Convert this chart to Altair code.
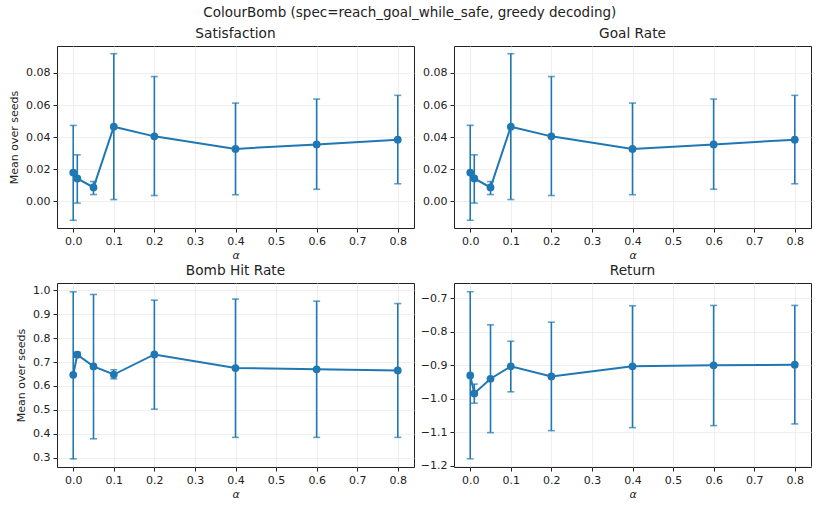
import altair as alt
import pandas as pd

alphas = [0.0, 0.01, 0.05, 0.1, 0.2, 0.4, 0.6, 0.8]

sat_mean = [0.0180, 0.0143, 0.0087, 0.0465, 0.0405, 0.0327, 0.0355, 0.0384]
sat_lo = [-0.0117, -0.0010, 0.0043, 0.0012, 0.0037, 0.0042, 0.0076, 0.0110]
sat_hi = [0.0473, 0.0290, 0.0124, 0.0919, 0.0777, 0.0612, 0.0637, 0.0660]

goal_mean = list(sat_mean)
goal_lo = list(sat_lo)
goal_hi = list(sat_hi)

bomb_mean = [0.647, 0.731, 0.682, 0.648, 0.732, 0.675, 0.670, 0.665]
bomb_lo = [0.295, 0.721, 0.379, 0.630, 0.503, 0.385, 0.385, 0.385]
bomb_hi = [0.994, 0.741, 0.983, 0.668, 0.959, 0.964, 0.955, 0.945]

ret_mean = [-0.930, -0.984, -0.940, -0.903, -0.933, -0.903, -0.900, -0.898]
ret_lo = [-1.179, -1.013, -1.101, -0.979, -1.095, -1.086, -1.080, -1.075]
ret_hi = [-0.680, -0.956, -0.779, -0.828, -0.771, -0.722, -0.721, -0.721]

x_ticks = [0.0, 0.1, 0.2, 0.3, 0.4, 0.5, 0.6, 0.7, 0.8]

BLUE = "#1f77b4"
FONT = "DejaVu Sans"
TXT = "#222222"
W = 357


def panel(title, mean, lo, hi, ydom, yticks, yfmt, ytitle, h):
    df = pd.DataFrame({"alpha": alphas, "mean": mean, "lo": lo, "hi": hi})
    base = alt.Chart(df)
    x = alt.X("alpha:Q", scale=alt.Scale(domain=[-0.04, 0.84], nice=False, zero=False),
              axis=alt.Axis(values=x_ticks, format=".1f", title="α", titleFontStyle="italic",
                            titleFontWeight="normal", labelOverlap=False, titlePadding=3,
                            tickCount=20))
    if ytitle:
        yaxis = alt.Axis(values=yticks, format=yfmt, title=ytitle, titleFontWeight="normal",
                         labelOverlap=False, titlePadding=6, tickCount=20)
    else:
        yaxis = alt.Axis(values=yticks, format=yfmt, title=None, labelOverlap=False,
                         tickCount=20)
    yscale = alt.Scale(domain=ydom, nice=False, zero=False)
    rules = base.mark_rule(color=BLUE, strokeWidth=1.6).encode(
        x=x, y=alt.Y("lo:Q", scale=yscale, axis=yaxis), y2="hi:Q")
    cap_hi = base.mark_tick(color=BLUE, orient="horizontal", size=7, thickness=1.6).encode(
        x="alpha:Q", y="hi:Q")
    cap_lo = base.mark_tick(color=BLUE, orient="horizontal", size=7, thickness=1.6).encode(
        x="alpha:Q", y="lo:Q")
    line = base.mark_line(color=BLUE, strokeWidth=2).encode(x="alpha:Q", y="mean:Q")
    pts = base.mark_circle(color=BLUE, size=60, opacity=1).encode(x="alpha:Q", y="mean:Q")
    return alt.layer(rules, cap_hi, cap_lo, line, pts).properties(
        width=W, height=h,
        title=alt.TitleParams(title, fontSize=13.7, fontWeight="normal", font=FONT, offset=5,
                              color=TXT))


p1 = panel("Satisfaction", sat_mean, sat_lo, sat_hi, [-0.0165, 0.0967],
           [0.0, 0.02, 0.04, 0.06, 0.08], ".2f", "Mean over seeds", 182)
p2 = panel("Goal Rate", goal_mean, goal_lo, goal_hi, [-0.0165, 0.0967],
           [0.0, 0.02, 0.04, 0.06, 0.08], ".2f", None, 182)
p3 = panel("Bomb Hit Rate", bomb_mean, bomb_lo, bomb_hi, [0.261, 1.031],
           [0.3, 0.4, 0.5, 0.6, 0.7, 0.8, 0.9, 1.0], ".1f", "Mean over seeds", 184)
p4 = panel("Return", ret_mean, ret_lo, ret_hi, [-1.2036, -0.654],
           [-1.2, -1.1, -1.0, -0.9, -0.8, -0.7], ".1f", None, 184)

chart = alt.concat(p1, p2, p3, p4, columns=2, spacing={"row": 2, "column": 4}).properties(
    title=alt.TitleParams("ColourBomb (spec=reach_goal_while_safe, greedy decoding)",
                          fontSize=13.5, fontWeight="normal", font=FONT, anchor="middle", offset=7,
                          color=TXT),
    padding={"left": 8, "top": 6, "right": 5, "bottom": 4},
    background="white",
).configure_view(
    stroke="#222222", strokeWidth=1
).configure_axis(
    labelFont=FONT, titleFont=FONT, labelFontSize=11, titleFontSize=11,
    titleFontWeight="normal", labelColor=TXT, titleColor=TXT,
    domain=False, tickColor=TXT, tickSize=4, tickWidth=1,
    grid=True, gridColor="#ebebeb", gridWidth=0.8, labelPadding=3,
)

chart.save("out.html", embed_options={"renderer": "svg", "actions": False})
